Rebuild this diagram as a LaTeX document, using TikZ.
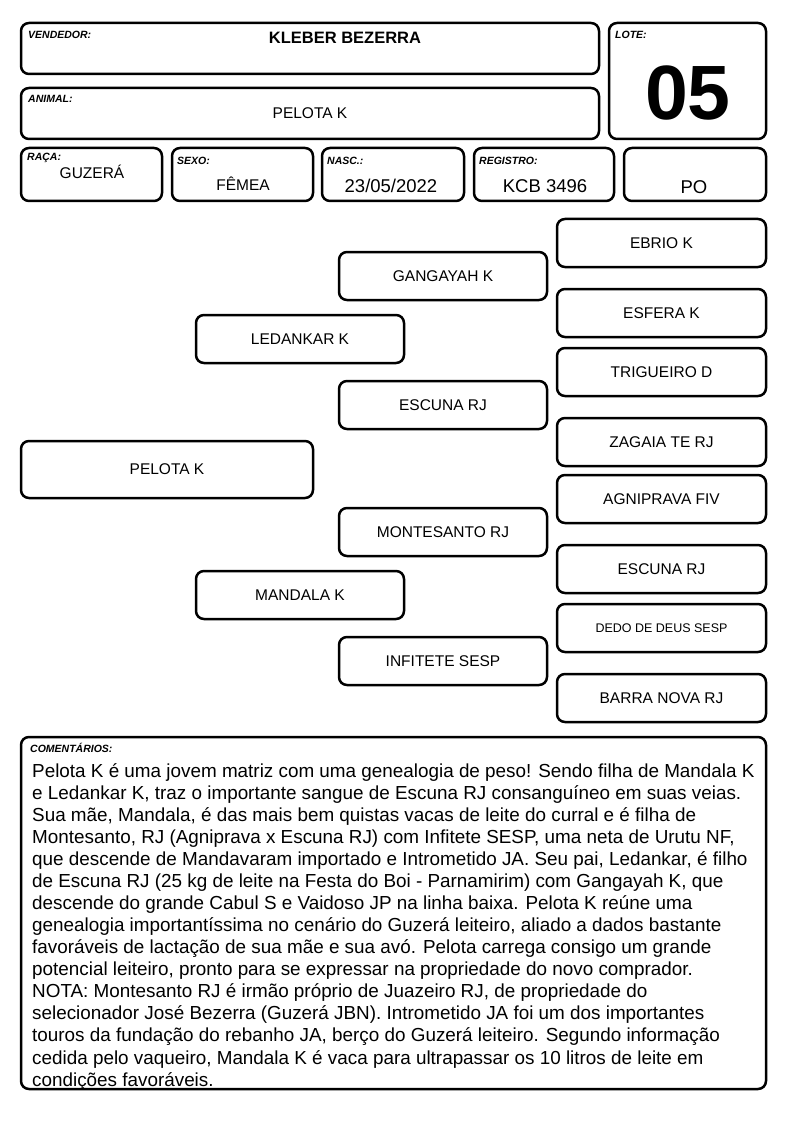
\documentclass[tikz,border=0pt]{standalone}
\usepackage{fontspec}
\setmainfont{Liberation Sans}
\begin{document}
\begin{tikzpicture}[x=1pt,y=-1pt,
  box/.style={draw=black, line width=2.5pt, rounded corners=8pt, inner sep=0pt, outer sep=0pt, anchor=north west, fill=white},
  lbl/.style={font=\fontsize{10.5}{12}\selectfont\bfseries\itshape, anchor=west, inner sep=0pt},
  val/.style={font=\fontsize{15.5}{17}\selectfont, inner sep=0pt},
  bigval/.style={font=\fontsize{18.5}{20}\selectfont, inner sep=0pt},
  ped/.style={box, minimum width=208pt, minimum height=48pt},
  pedtxt/.style={font=\fontsize{15.5}{17}\selectfont, inner sep=0pt}
]
\useasboundingbox (0,0) rectangle (794,1123);
% header
\node[box, minimum width=578pt, minimum height=51pt] (vend) at (21,23) {};
\node[box, minimum width=578pt, minimum height=51pt] (anim) at (21,88) {};
\node[box, minimum width=157pt, minimum height=116pt] (lote) at (609,23) {};
\node[box, minimum width=141pt, minimum height=53pt] (raca) at (21,148) {};
\node[box, minimum width=141pt, minimum height=53pt] (sexo) at (172,148) {};
\node[box, minimum width=142pt, minimum height=53pt] (nasc) at (322,148) {};
\node[box, minimum width=140pt, minimum height=53pt] (regi) at (474,148) {};
\node[box, minimum width=142pt, minimum height=53pt] (po) at (624,148) {};

\node[lbl] (vendl) at (28,35) {VENDEDOR:};
\node[font=\fontsize{16.5}{18}\selectfont\bfseries, inner sep=0pt] (vendv) at (345,38) {KLEBER BEZERRA};
\node[lbl] (animl) at (28,99) {ANIMAL:};
\node[val] (animv) at (310,113) {PELOTA K};
\node[lbl] (lotel) at (615,35) {LOTE:};
\node[font=\fontsize{77}{80}\selectfont\bfseries, inner sep=0pt] (lotev) at (688,93) {05};
\node[lbl] (racal) at (27,158) {RAÇA:};
\node[val] (racav) at (92,172) {GUZERÁ};
\node[lbl] (sexol) at (177,161) {SEXO:};
\node[val] (sexov) at (243,184) {FÊMEA};
\node[lbl] (nascl) at (327,161) {NASC.:};
\node[bigval] (nascv) at (391,186) {23/05/2022};
\node[lbl] (regil) at (479,161) {REGISTRO:};
\node[bigval] (regiv) at (545,186) {KCB 3496};
\node[bigval] (pov) at (694,187) {PO};

% pedigree
\node[box, minimum width=292pt, minimum height=57pt] (pelota) at (21,441) {};
\node[pedtxt] at (pelota.center) {PELOTA K};
\node[ped] (ledankar) at (196,315) {};
\node[pedtxt] at (ledankar.center) {LEDANKAR K};
\node[ped] (mandala) at (196,571) {};
\node[pedtxt] at (mandala.center) {MANDALA K};
\node[ped] (gangayah) at (339,252) {};
\node[pedtxt] at (gangayah.center) {GANGAYAH K};
\node[ped] (escuna) at (339,381) {};
\node[pedtxt] at (escuna.center) {ESCUNA RJ};
\node[ped] (montesanto) at (339,508) {};
\node[pedtxt] at (montesanto.center) {MONTESANTO RJ};
\node[ped] (infitete) at (339,637) {};
\node[pedtxt] at (infitete.center) {INFITETE SESP};

\node[ped, minimum width=209pt] (ebrio) at (557,219) {};
\node[pedtxt] at (ebrio.center) {EBRIO K};
\node[ped, minimum width=209pt] (esfera) at (557,289) {};
\node[pedtxt] at (esfera.center) {ESFERA K};
\node[ped, minimum width=209pt] (trigueiro) at (557,348) {};
\node[pedtxt] at (trigueiro.center) {TRIGUEIRO D};
\node[ped, minimum width=209pt] (zagaia) at (557,418) {};
\node[pedtxt] at (zagaia.center) {ZAGAIA TE RJ};
\node[ped, minimum width=209pt] (agniprava) at (557,475) {};
\node[pedtxt] at (agniprava.center) {AGNIPRAVA FIV};
\node[ped, minimum width=209pt] (escuna2) at (557,545) {};
\node[pedtxt] at (escuna2.center) {ESCUNA RJ};
\node[ped, minimum width=209pt] (dedo) at (557,604) {};
\node[font=\fontsize{12.5}{14}\selectfont, inner sep=0pt] at (dedo.center) {DEDO DE DEUS SESP};
\node[ped, minimum width=209pt] (barra) at (557,674) {};
\node[pedtxt] at (barra.center) {BARRA NOVA RJ};

% comments
\node[box, minimum width=745pt, minimum height=352pt] (coment) at (21,737) {};
\node[lbl] (comentl) at (30,748) {COMENTÁRIOS:};
\node[anchor=north west, inner sep=0pt, align=left, font=\fontsize{18.87}{22.07}\selectfont] (comentv) at (32,763) {%
Pelota K é uma jovem matriz com uma genealogia de peso! Sendo filha de Mandala K\\
e Ledankar K, traz o importante sangue de Escuna RJ consanguíneo em suas veias.\\
Sua mãe, Mandala, é das mais bem quistas vacas de leite do curral e é filha de\\
Montesanto, RJ (Agniprava x Escuna RJ) com Infitete SESP, uma neta de Urutu NF,\\
que descende de Mandavaram importado e Intrometido JA. Seu pai, Ledankar, é filho\\
de Escuna RJ (25 kg de leite na Festa do Boi - Parnamirim) com Gangayah K, que\\
descende do grande Cabul S e Vaidoso JP na linha baixa. Pelota K reúne uma\\
genealogia importantíssima no cenário do Guzerá leiteiro, aliado a dados bastante\\
favoráveis de lactação de sua mãe e sua avó. Pelota carrega consigo um grande\\
potencial leiteiro, pronto para se expressar na propriedade do novo comprador.\\
NOTA: Montesanto RJ é irmão próprio de Juazeiro RJ, de propriedade do\\
selecionador José Bezerra (Guzerá JBN). Intrometido JA foi um dos importantes\\
touros da fundação do rebanho JA, berço do Guzerá leiteiro. Segundo informação\\
cedida pelo vaqueiro, Mandala K é vaca para ultrapassar os 10 litros de leite em\\
condições favoráveis.};
\end{tikzpicture}
\end{document}
